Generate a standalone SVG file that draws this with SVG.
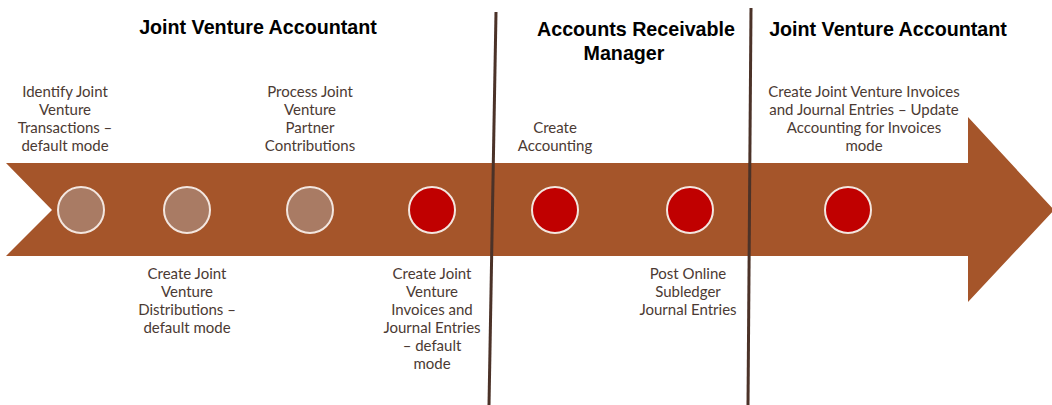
<svg xmlns="http://www.w3.org/2000/svg" width="1052" height="405" viewBox="0 0 1052 405">
<style>
.hdr{font-family:"Liberation Sans",Arial,sans-serif;font-weight:bold;font-size:19.7px;fill:#000;text-anchor:middle}
.lbl{font-family:Lato,"Open Sans",sans-serif;font-size:15px;fill:#4B3A33;text-anchor:middle}
.done{fill:#A97B64;stroke:#F3E6DF;stroke-width:2}
.todo{fill:#C00000;stroke:#F3E6DF;stroke-width:2}
.div{stroke:#4B3228;stroke-width:3;fill:none}
</style>
<rect width="1052" height="405" fill="#fff"/>
<g id="arrow">
<polygon points="6,163 968,163 968,117 1054,210 968,302 968,256 6,256 52,210" fill="#A5552A"/>
</g>
<g id="connectors">
<line class="div" x1="496" y1="12" x2="489" y2="405"/>
<line class="div" x1="751" y1="8" x2="748" y2="405"/>
</g>
<g id="headers">
<text class="hdr" x="258" y="34">Joint Venture Accountant</text>
<text class="hdr" x="636" y="36">Accounts Receivable</text>
<text class="hdr" x="624" y="60">Manager</text>
<text class="hdr" x="888" y="36">Joint Venture Accountant</text>
</g>
<g id="n1"><circle class="done" cx="81" cy="210" r="23"/>
<text class="lbl" x="65" y="97">Identify Joint<tspan x="65" dy="18">Venture</tspan><tspan x="65" dy="18">Transactions –</tspan><tspan x="65" dy="18">default mode</tspan></text></g>
<g id="n2"><circle class="done" cx="187" cy="210" r="23"/>
<text class="lbl" x="187" y="279">Create Joint<tspan x="187" dy="18">Venture</tspan><tspan x="187" dy="18">Distributions –</tspan><tspan x="187" dy="18">default mode</tspan></text></g>
<g id="n3"><circle class="done" cx="310" cy="210" r="23"/>
<text class="lbl" x="310" y="97">Process Joint<tspan x="310" dy="18">Venture</tspan><tspan x="310" dy="18">Partner</tspan><tspan x="310" dy="18">Contributions</tspan></text></g>
<g id="n4"><circle class="todo" cx="432" cy="210" r="23"/>
<text class="lbl" x="432" y="279">Create Joint<tspan x="432" dy="18">Venture</tspan><tspan x="432" dy="18">Invoices and</tspan><tspan x="432" dy="18">Journal Entries</tspan><tspan x="432" dy="18">– default</tspan><tspan x="432" dy="18">mode</tspan></text></g>
<g id="n5"><circle class="todo" cx="555" cy="210" r="23"/>
<text class="lbl" x="555" y="133">Create<tspan x="555" dy="18">Accounting</tspan></text></g>
<g id="n6"><circle class="todo" cx="690" cy="210" r="23"/>
<text class="lbl" x="688" y="279">Post Online<tspan x="688" dy="18">Subledger</tspan><tspan x="688" dy="18">Journal Entries</tspan></text></g>
<g id="n7"><circle class="todo" cx="848" cy="210" r="23"/>
<text class="lbl" x="864" y="97">Create Joint Venture Invoices<tspan x="864" dy="18">and Journal Entries – Update</tspan><tspan x="864" dy="18">Accounting for Invoices</tspan><tspan x="864" dy="18">mode</tspan></text></g>
</svg>
